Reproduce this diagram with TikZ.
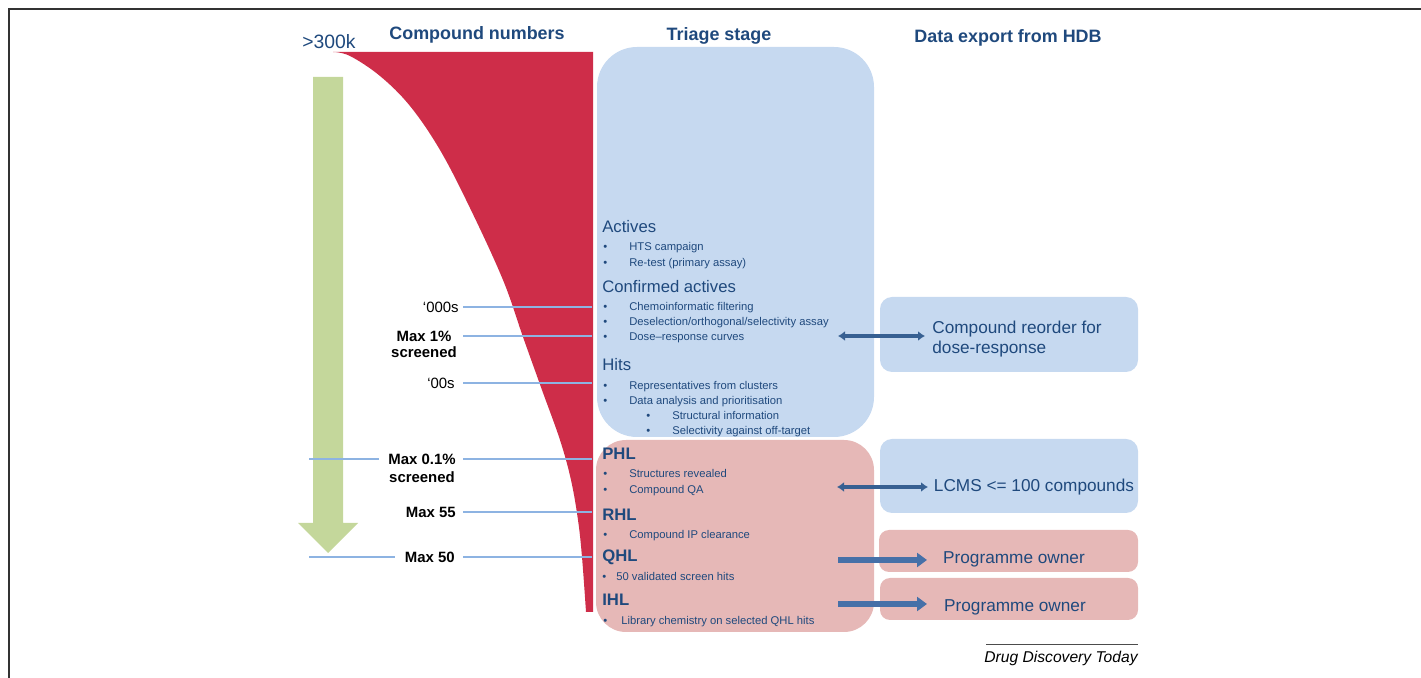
\documentclass[tikz,border=0pt]{standalone}
\usepackage{fontspec}
\setmainfont{Liberation Sans}
\usetikzlibrary{arrows.meta}
\tikzset{>=latex}
\definecolor{hdbblue}{RGB}{31,73,125}
\definecolor{triageblue}{RGB}{198,217,240}
\definecolor{triagepink}{RGB}{230,184,183}
\definecolor{funnelred}{RGB}{206,45,73}
\definecolor{arrowgreen}{RGB}{196,215,155}
\definecolor{tickblue}{RGB}{141,179,226}
\definecolor{linkblue}{RGB}{55,96,146}
\definecolor{ownerblue}{RGB}{70,112,168}
\tikzstyle{tickline}=[draw=tickblue,line width=0.04cm]
\tikzstyle{linkarrow}=[draw=linkblue,line width=0.07cm,{Latex[length=0.14cm,width=0.2cm]}-{Latex[length=0.14cm,width=0.2cm]}]
\tikzstyle{ownerarrow}=[draw=ownerblue,line width=0.12cm,-{Triangle[length=0.2cm,width=0.28cm]}]
\tikzstyle{colhead}=[font=\fontsize{10.2}{12}\selectfont\bfseries,text=hdbblue,text height=7.3pt,text depth=0pt,inner sep=0pt]
\tikzstyle{stagehead}=[font=\fontsize{9.5}{11}\selectfont,text=hdbblue,anchor=west,text height=6.8pt,text depth=0pt,inner sep=0pt]
\tikzstyle{listhead}=[stagehead,font=\fontsize{9.5}{11}\selectfont\bfseries]
\tikzstyle{itemtext}=[font=\fontsize{6.4}{8}\selectfont,text=hdbblue,anchor=west,text height=4.6pt,text depth=0pt,inner sep=0pt]
\tikzstyle{countlabel}=[font=\fontsize{8.5}{10}\selectfont,text height=6.1pt,text depth=0pt,inner sep=0pt]
\tikzstyle{maxlabel}=[countlabel,font=\fontsize{8.5}{10}\selectfont\bfseries]
\tikzstyle{exporttext}=[font=\fontsize{9.8}{12}\selectfont,text=hdbblue,text height=7pt,text depth=0pt,inner sep=0pt]

\begin{document}
\begin{tikzpicture}[x=0.02cm,y=-0.02cm]
    \useasboundingbox (0,0) rectangle (1421,678);
    \draw[black!80,line width=0.03cm] (9,678) -- (9,9) -- (1421,9);

    % funnel and direction arrow
    \fill[funnelred] plot[smooth,tension=0.6] coordinates {(333,52) (350,56) (380,76) (410,106) (440,150) (470,208) (503,280) (523,337) (542,390) (560,440) (571,480) (578,520) (582,557) (586,612)} -- (593,612) -- (593,52) -- cycle;
    \fill[arrowgreen] (313,77) -- (343,77) -- (343,523) -- (358,523) -- (328,553) -- (298,523) -- (313,523) -- cycle;

    % boxes
    \fill[triageblue,rounded corners=0.8cm] (597,47) rectangle (874,437);
    \fill[triagepink,rounded corners=0.6cm] (596,440) rectangle (874,632);
    \fill[triageblue,rounded corners=0.24cm] (880,297) rectangle (1138,372);
    \fill[triageblue,rounded corners=0.24cm] (880,439) rectangle (1138,513);
    \fill[triagepink,rounded corners=0.2cm] (879,530) rectangle (1138,572);
    \fill[triagepink,rounded corners=0.2cm] (880,578) rectangle (1138,620);

    % column heads
    \node[colhead] (numhead) at (477,33) {Compound numbers};
    \node[colhead] (triagehead) at (719,34) {Triage stage};
    \node[colhead] (exporthead) at (1008,36) {Data export from HDB};
    \node[font=\fontsize{11}{13}\selectfont,text=hdbblue,text height=7.9pt,text depth=0pt,inner sep=0pt] (start) at (329,42) {>300k};

    % triage stages
    \node[stagehead] (actives) at (602,227) {Actives};
    \node[stagehead] (confirmed) at (602,287) {Confirmed actives};
    \node[stagehead] (hits) at (602,365) {Hits};
    \foreach \y/\t in {246/HTS campaign,262/Re-test (primary assay),306/Chemoinformatic filtering,321/{Deselection/orthogonal/selectivity assay},336/Dose--response curves,385/Representatives from clusters,400/Data analysis and prioritisation,473/Structures revealed,489/Compound QA,534/Compound IP clearance}{
      \node[itemtext] (dot\y) at (603,\y) {\textbullet};
      \node[itemtext] (item\y) at (629,\y) {\t};
    }
    \foreach \y/\t in {415/Structural information,430/Selectivity against off-target}{
      \node[itemtext] (dot\y) at (646,\y) {\textbullet};
      \node[itemtext] (item\y) at (672,\y) {\t};
    }
    \node[listhead] (phl) at (602,454) {PHL};
    \node[listhead] (rhl) at (602,515) {RHL};
    \node[listhead] (qhl) at (602,556) {QHL};
    \node[listhead] (ihl) at (602,600) {IHL};
    \node[itemtext] (dot576) at (602,576) {\textbullet};
    \node[itemtext] (item576) at (616,576) {50 validated screen hits};
    \node[itemtext] (dot620) at (603,620) {\textbullet};
    \node[itemtext] (item620) at (621,620) {Library chemistry on selected QHL hits};

    % compound numbers
    \coordinate (tickL) at (463,0);
    \coordinate (funR) at (592,0);
    \coordinate (arrowL) at (309,0);
    \node[countlabel,anchor=east] (k000) at (459,307) {`000s};
    \node[maxlabel] (max1) at (424,336) {Max 1\%};
    \node[maxlabel] (scr1) at (424,352) {screened};
    \node[countlabel,anchor=east] (k00) at (455,383) {`00s};
    \node[maxlabel] (max01) at (422,459) {Max 0.1\%};
    \node[maxlabel] (scr01) at (422,477) {screened};
    \node[maxlabel,anchor=east] (max55) at (456,512) {Max 55};
    \node[maxlabel,anchor=east] (max50) at (455,557) {Max 50};
    \foreach \n in {k000,max1,k00,max01,max55,max50}
      \draw[tickline] (\n.east -| tickL) -- (\n.east -| funR);
    \draw[tickline] (max01.west -| arrowL) -- ++(70,0);
    \draw[tickline] (max50.west -| arrowL) -- ++(86,0);

    % data export
    \node[exporttext,anchor=west] (reorder) at (932,327) {Compound reorder for};
    \node[exporttext,anchor=west] (reorder2) at (932,347) {dose-response};
    \node[exporttext] (lcms) at (1034,485) {LCMS <= 100 compounds};
    \node[exporttext] (owner1) at (1014,557) {Programme owner};
    \node[exporttext] (owner2) at (1015,605) {Programme owner};
    \coordinate (linkA) at (838,336);
    \coordinate (linkB) at (837,487);
    \coordinate (linkC) at (838,560);
    \coordinate (linkD) at (838,604);
    \draw[linkarrow] (linkA) -- ++(87,0);
    \draw[linkarrow] (linkB) -- ++(91,0);
    \draw[ownerarrow] (linkC) -- ++(89,0);
    \draw[ownerarrow] (linkD) -- ++(89,0);

    % source
    \draw[black!70,line width=0.02cm] (986,645) -- (1138,645);
    \node[font=\fontsize{8.9}{11}\selectfont\itshape,anchor=east,text height=6.4pt,text depth=0pt,inner sep=0pt] (journal) at (1138,657) {Drug Discovery Today};
  \end{tikzpicture}
\end{document}
